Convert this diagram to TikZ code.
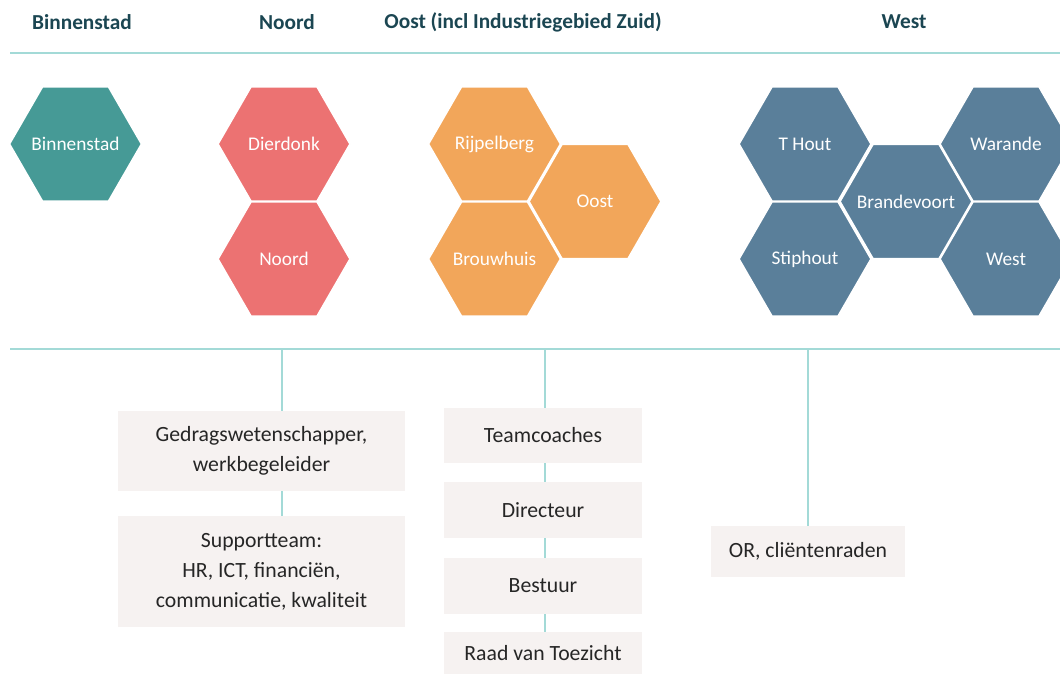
\documentclass[tikz,border=0pt]{standalone}
\usepackage{fontspec}
\setmainfont{Carlito}
\usetikzlibrary{positioning}

\definecolor{headtxt}{HTML}{1B4652}
\definecolor{rulecol}{HTML}{A3DAD7}
\definecolor{hexteal}{HTML}{469A96}
\definecolor{hexred}{HTML}{EC7272}
\definecolor{hexorange}{HTML}{F2A65A}
\definecolor{hexslate}{HTML}{5A7F9A}
\definecolor{boxfill}{HTML}{F6F2F1}
\definecolor{boxtxt}{HTML}{262626}

\begin{document}
\begin{tikzpicture}[x=0.75pt,y=-0.75pt,
    head/.style={font=\fontsize{16}{19}\selectfont\bfseries,text=headtxt},
    hexcell/.style={draw=white,line width=1.2pt,line join=miter},
    hextxt/.style={text=white,inner sep=0pt,font=\fontsize{14.5}{17}\selectfont},
    info/.style={fill=boxfill,text=boxtxt,align=center,inner sep=0pt,
      font=\fontsize{16.3}{22.5}\selectfont},
    conn/.style={draw=rulecol,line width=1pt}]
    \useasboundingbox (0,0) rectangle (1060,682);
    \clip (0,0) rectangle (1060,682);

    % kopjes
    \node[head] (hbinnen) at (82,22) {Binnenstad};
    \node[head] (hnoord) at (287,22) {Noord};
    \node[head] (hoost) at (523,22) {Oost (incl Industriegebied Zuid)};
    \node[head] (hwest) at (904,22) {West};

    \coordinate (topl) at (10,53);
    \coordinate (topr) at (1060,53);
    \draw[conn] (topl) -- (topr);

    % wijken als zeshoeken
    \foreach \name/\pos/\col/\txt in {
        binnen/{75.5,144}/hexteal/Binnenstad,
        dierdonk/{284,144}/hexred/Dierdonk,
        noord/{284,259}/hexred/Noord,
        rijpel/{494.5,144}/hexorange/Rijpelberg,
        oost/{595,201.5}/hexorange/Oost,
        brouw/{494.5,259}/hexorange/Brouwhuis,
        thout/{805,144}/hexslate/T Hout,
        brande/{906,201.5}/hexslate/Brandevoort,
        warande/{1006,144}/hexslate/Warande,
        stip/{805,259}/hexslate/Stiphout,
        west/{1006,259}/hexslate/West} {
        \filldraw[hexcell,fill=\col,shift={(\pos)}]
            (0:66) -- (60:66) -- (120:66) -- (180:66) -- (240:66) -- (300:66) -- cycle;
        \node[hextxt] (\name) at (\pos) {\txt};
    }

    \coordinate (botl) at (10,349);
    \coordinate (botr) at (1060,349);
    \draw[conn] (botl) -- (botr);

    % ondersteuning
    \node[info,minimum width=215.25pt,minimum height=60pt] (gedrag) at (261.5,451) {Gedragswetenschapper,\\werkbegeleider};
    \node[info,minimum width=215.25pt,minimum height=83.25pt] (support) at (261.5,571.5) {Supportteam:\\HR, ICT, financiën,\\communicatie, kwaliteit};

    \node[info,minimum width=148.5pt,minimum height=41.25pt] (team) at (543,435.5) {Teamcoaches};
    \node[info,minimum width=148.5pt,minimum height=42pt] (dir) at (543,510) {Directeur};
    \node[info,minimum width=148.5pt,minimum height=42pt] (bestuur) at (543,586) {Bestuur};
    \node[info,minimum width=148.5pt,minimum height=31.5pt] (raad) at (543,653) {Raad van Toezicht};

    \node[info,minimum width=145.5pt,minimum height=38.25pt] (or) at (808,551.5) {OR, cliëntenraden};

    \coordinate (tap1) at (282,349);
    \coordinate (tap2) at (545,349);
    \coordinate (tap3) at (808,349);

    \draw[conn] (tap1) -- (tap1 |- gedrag.north);
    \draw[conn] (gedrag.south -| tap1) -- (tap1 |- support.north);
    \draw[conn] (tap2) -- (tap2 |- team.north);
    \foreach \from/\to in {team/dir,dir/bestuur,bestuur/raad}
        \draw[conn] (\from.south -| tap2) -- (\to.north -| tap2);
    \draw[conn] (tap3) -- (tap3 |- or.north);
\end{tikzpicture}
\end{document}
